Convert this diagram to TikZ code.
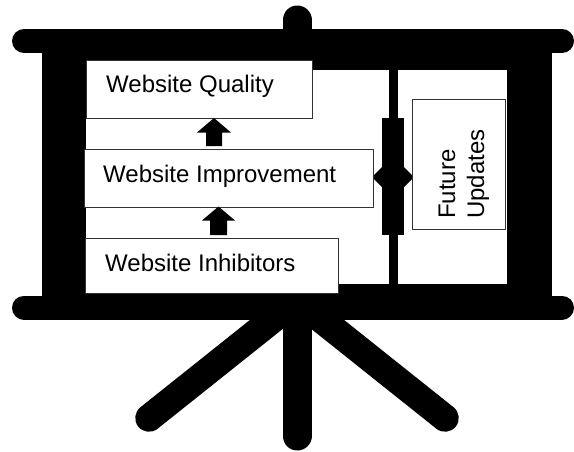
\documentclass[tikz,border=0pt]{standalone}
\usepackage{fontspec}
\setmainfont{Liberation Sans}
\tikzset{
  x=1pt,y=-1pt,
  bar/.style={line width=24pt,line cap=round,black},
  legline/.style={line width=27.5pt,line cap=round,black},
  panel/.style={draw=black!80,line width=0.7pt,fill=white,inner sep=0pt,anchor=north west},
  lab/.style={inner sep=0pt,anchor=base west,font=\fontsize{24}{26}\selectfont,text=black},
  blockarrow/.style={fill=black,draw=none}
}
\begin{document}
\begin{tikzpicture}
\useasboundingbox (0,0) rectangle (574,451);
% stand
\draw[legline] (297,300) -- (149,418);
\draw[legline] (297,300) -- (445,418);
\draw[line width=29pt,line cap=round] (297,300) -- (297,436);
\draw[line width=29pt,line cap=round] (297,20) -- (297,40);
% frame
\fill[black] (42,29) rectangle (552,319);
\fill[white] (86,70) rectangle (507,284);
\draw[bar] (24,41) -- (562,41);
\draw[bar] (24,307.5) -- (562,307.5);
% divider
\fill[black] (389,70) rectangle (398,284);
\fill[black] (382,118) rectangle (404,235);
\fill[blockarrow] (372,177) -- (382,167) -- (382,187) -- cycle;
\fill[blockarrow] (414,177) -- (404,167) -- (404,187) -- cycle;
% panels
\node[panel,minimum width=226pt,minimum height=58pt] (quality) at (86,60) {};
\node[panel,minimum width=289.5pt,minimum height=58pt] (improve) at (83.5,149) {};
\node[panel,minimum width=253pt,minimum height=55pt] (inhibit) at (85,238) {};
\node[panel,minimum width=93pt,minimum height=130pt] (future) at (412,99) {};
% up arrows
\fill[blockarrow] (214,118) -- (231,132.5) -- (222,132.5) -- (222,146) -- (206,146) -- (206,132.5) -- (197,132.5) -- cycle;
\fill[blockarrow] (218.5,206.5) -- (235,220.5) -- (227,220.5) -- (227,235) -- (210,235) -- (210,220.5) -- (202,220.5) -- cycle;
% labels
\node[lab] (t1) at (106,92) {Website Quality};
\node[lab] (t2) at (103,182) {Website Improvement};
\node[lab] (t3) at (105,271) {Website Inhibitors};
\node[lab,rotate=90] (t4) at (455,219) {Future};
\node[lab,rotate=90] (t5) at (484,219) {Updates};
\end{tikzpicture}
\end{document}
